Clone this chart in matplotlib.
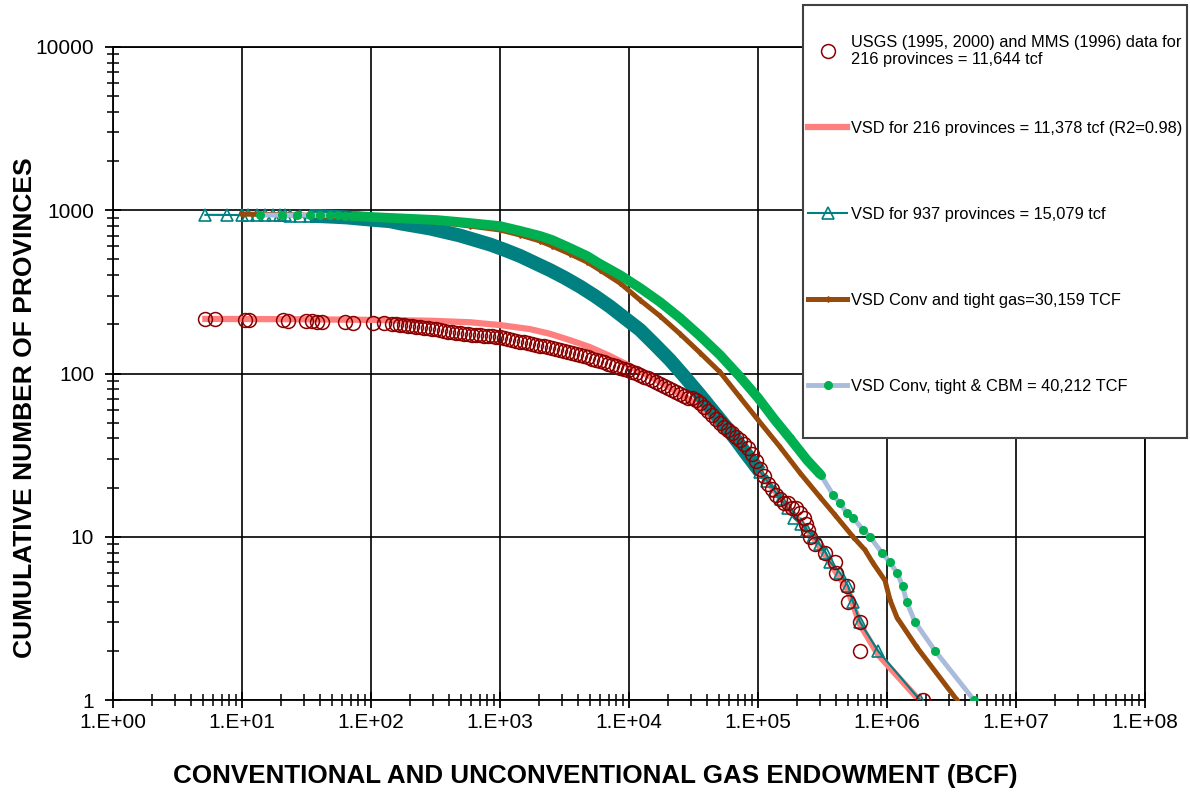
import numpy as np
import matplotlib.pyplot as plt
from matplotlib.patches import Rectangle
from matplotlib.ticker import LogLocator, NullFormatter, FixedLocator, FixedFormatter

plt.rcParams['font.family'] = ['Liberation Sans', 'DejaVu Sans']

# USGS / MMS province endowments (BCF) against cumulative rank
usgs_x = [5.2, 6.2, 10.5, 11.3, 20.8, 22.7, 31.3, 34.9, 38.1, 41.7, 62.8, 72.5, 104, 126,
          145.5, 156, 168, 180, 194, 208, 223, 240, 258, 277, 297, 319, 343, 368, 395, 425,
          456, 490, 526, 565, 607, 652, 700, 752, 807, 867, 931, 1000, 1074, 1153, 1239, 1330,
          1429, 1535, 1648, 1770, 1901, 2042, 2193, 2355, 2530, 2717, 2918, 3134, 3366, 3615,
          3883, 4171, 4479, 4811, 5167, 5549, 5960, 6401, 6875, 7384, 7930, 8517, 9147, 9823,
          10550, 11330, 12170, 13070, 14040, 15080, 16190, 17390, 18680, 20060, 21540, 23140,
          24850, 26690, 28660, 30780, 33060, 35510, 38140, 40960, 43990, 47240, 50740, 54490,
          58520, 62850, 67510, 72510, 77870, 83630, 89830, 96460, 103600, 111300, 119500,
          128400, 137900, 148100, 159100, 170800, 183500, 197000, 211700, 227300,
          235000, 245000, 252000, 277000, 331000, 395000, 403000, 490000, 495000,
          617000, 620000, 1900000]
usgs_y = [216, 215, 214, 213, 212, 211, 210, 209, 208, 207, 206, 205, 204, 203,
          201, 201, 198, 198, 195, 195, 193, 193, 190, 190, 187, 187, 185, 182, 180, 180,
          177, 177, 175, 175, 172, 172, 172, 170, 170, 170, 167, 167, 165, 163, 160, 158,
          156, 156, 154, 152, 150, 147, 147, 145, 143, 141, 139, 137, 135, 134,
          132, 130, 128, 126, 123, 121, 119, 118, 114, 113, 111, 108, 107, 105,
          102, 101, 98, 95, 94, 91, 89, 86, 84, 82, 79, 77,
          75, 73, 71, 71, 69, 66, 62, 59, 56, 53, 50, 47,
          45, 43, 41, 39, 37, 35, 32, 29, 26, 23.5, 21,
          19.5, 18, 17, 16, 16, 15, 15, 14, 13,
          12, 11, 10, 9, 8, 7, 6, 5, 4,
          3, 2, 1]

# VSD fit for the 216 provinces
vsd216_x = [5.2, 28, 101, 287, 585, 1000, 1710, 2440, 3490, 4990, 7120, 10200, 14600, 20800,
            29700, 42400, 60700, 86900, 124000, 177000, 267000, 361000, 499000, 618000,
            851000, 1770000]
vsd216_y = [216, 215, 213, 210.5, 206, 198, 187, 175, 160, 145, 128, 111, 96, 81.5,
            69, 55.5, 40, 29.5, 20.7, 14.6, 10, 6.9, 4.7, 2.9, 1.9, 1]

# VSD for 937 provinces
vsd937_x = np.array([5.2, 7.6, 10.0, 11.1, 13.0, 15.0, 17.3, 19.7, 21.6, 23.5, 28, 33.6, 40, 50,
                     65, 101, 140, 168, 287, 490, 837, 1094, 1429, 1868, 2441, 3190, 4171,
                     5450, 7123, 9311, 12170, 15910, 20790, 27170, 35510, 46420, 60670, 79300,
                     103600, 118000, 135000, 150000, 170000, 190000, 215000, 240000, 267000,
                     300000, 335000, 361000, 434000, 499000, 545000, 618000, 851000, 1800000])
vsd937_y = np.array([937, 936, 935, 934, 933, 932, 931, 930, 929, 928, 926, 923, 920, 913,
                     903, 875, 857, 831, 773, 700, 617, 571, 525, 475, 430, 385, 341,
                     298, 257, 218, 185, 150, 121, 95, 74, 57, 44, 33,
                     25, 22, 19, 17, 15, 13, 12, 11, 10,
                     9, 8, 7, 6, 5, 4, 3, 2, 1])

# VSD conventional + tight gas
tight_x = [10, 28, 101, 325, 585, 1000, 1430, 2042, 2530, 3490, 4720, 5960, 8517, 12170, 17390,
           24850, 35510, 50740, 72510, 100000, 148100, 211700, 302400, 395300, 545000, 675200,
           778800, 964600, 1055000, 1195000, 1709000, 3487000]
tight_y = [948, 935, 896, 847, 800, 757, 705, 648, 604, 540, 482, 430, 358, 282, 225,
           175, 134, 102, 71.5, 52, 35.5, 24.6, 17.5, 13.6, 10, 8.3,
           6.9, 5.4, 4.1, 3.2, 2.1, 1]

# VSD conventional + tight + CBM
cbm_x = np.array([13.8, 20.4, 26.7, 33.6, 40.2, 48.1, 55.5, 62.9, 71.3, 101, 325, 585, 1000,
                  1430, 2042, 2530, 3490, 4720, 5960, 8510, 12200, 17400, 24800, 35500, 50700,
                  72500, 100000, 135000, 177000, 240000, 307000,
                  383000, 432000, 487000, 548000, 655000, 738000, 910000, 1050000, 1200000,
                  1320000, 1420000, 1650000, 2360000, 4720000])
cbm_y = np.array([935, 934, 933, 932, 931, 930, 929, 928, 926, 909, 871, 835, 800,
                  748, 696, 658, 587, 525, 469, 401, 334, 274, 219, 170, 130,
                  95.5, 71, 52, 40, 29.5, 23.9,
                  18, 16, 14, 13, 11, 10, 8, 7, 6,
                  5, 4, 3, 2, 1])

x_ticks = [1, 1e1, 1e2, 1e3, 1e4, 1e5, 1e6, 1e7, 1e8]
x_ticklabels = ['1.E+00', '1.E+01', '1.E+02', '1.E+03', '1.E+04', '1.E+05', '1.E+06', '1.E+07', '1.E+08']
y_ticks = [1, 10, 100, 1000, 10000]
y_ticklabels = ['1', '10', '100', '1000', '10000']

fig = plt.figure(figsize=(11.9, 8), dpi=100)
ax = fig.add_axes([113 / 1190, 100 / 800, 1032 / 1190, 653 / 800])

teal = '#008080'
green = '#00B050'

l_fit, = ax.plot(vsd216_x, vsd216_y, color='#FF7F7F', lw=4.5, zorder=2,
                 label='VSD for 216 provinces = 11,378 tcf (R2=0.98)')
# the 937 triangles pile up into a solid band through the middle
band = (vsd937_x > 30) & (vsd937_x < 1.1e5)
ax.plot(vsd937_x[band], vsd937_y[band], color=teal, lw=10, zorder=3, solid_capstyle='butt')
sparse = [i for i in range(len(vsd937_x)) if not (40 < vsd937_x[i] < 1.0e5)]
l_937, = ax.plot(vsd937_x, vsd937_y, color=teal, lw=1.5, marker='^', ms=8.5, mfc='none',
                 mec=teal, mew=1.2, markevery=sparse, zorder=3,
                 label='VSD for 937 provinces = 15,079 tcf')
l_usgs, = ax.plot(usgs_x, usgs_y, ls='none', marker='o', ms=10, mfc='none', mec='#8B0000',
                  mew=1.1, zorder=4,
                  label='USGS (1995, 2000) and MMS (1996) data for\n216 provinces = 11,644 tcf')
l_tight, = ax.plot(tight_x, tight_y, color='#974A09', lw=3.6, marker='d', ms=3, zorder=5,
                   label='VSD Conv and tight gas=30,159 TCF')
l_cbm, = ax.plot(cbm_x, cbm_y, color='#A9BCDB', lw=3.5, marker='o', ms=5.5, mfc=green,
                 mec=green, zorder=6, label='VSD Conv, tight & CBM = 40,212 TCF')
band = (cbm_x > 65) & (cbm_x < 3.2e5)
ax.plot(cbm_x[band], cbm_y[band], color=green, lw=7, zorder=6, solid_capstyle='butt')

ax.set_xscale('log')
ax.set_yscale('log')
ax.set_xlim(1, 1e8)
ax.set_ylim(1, 1e4)
ax.xaxis.set_major_locator(FixedLocator(x_ticks))
ax.xaxis.set_major_formatter(FixedFormatter(x_ticklabels))
ax.yaxis.set_major_locator(FixedLocator(y_ticks))
ax.yaxis.set_major_formatter(FixedFormatter(y_ticklabels))
ax.xaxis.set_minor_locator(LogLocator(base=10, subs=range(2, 10), numticks=20))
ax.yaxis.set_minor_locator(LogLocator(base=10, subs=range(2, 10), numticks=20))
ax.xaxis.set_minor_formatter(NullFormatter())
ax.yaxis.set_minor_formatter(NullFormatter())
ax.tick_params(which='major', direction='inout', length=11, width=1.3, labelsize=15, pad=4)
ax.tick_params(which='minor', direction='inout', length=8, width=1.1)
ax.tick_params(axis='y', which='major', pad=8)
ax.grid(True, which='major', color='black', lw=1.2)
for s in ax.spines.values():
    s.set_color('black')
    s.set_linewidth(1.3)

fig.text(0.5, 0.03, 'CONVENTIONAL AND UNCONVENTIONAL GAS ENDOWMENT (BCF)',
         ha='center', va='center', fontsize=18.7, fontweight='bold')
fig.text(0.021, 0.491, 'CUMULATIVE NUMBER OF PROVINCES', rotation=90,
         ha='center', va='center', fontsize=19, fontweight='bold')

fig.add_artist(Rectangle((803 / 1190, 362 / 800), 384 / 1190, 433 / 800,
                         transform=fig.transFigure, facecolor='white',
                         edgecolor='#404040', lw=1.5, zorder=3))
leg_kw = dict(loc='upper left', bbox_transform=fig.transFigure, frameon=False,
              fontsize=11.8, handlelength=2.4, handletextpad=0.2, borderpad=0,
              borderaxespad=0)
leg1 = fig.legend(handles=[l_usgs], bbox_to_anchor=(808 / 1190, 1 - 35 / 800), **leg_kw)
leg2 = fig.legend(handles=[l_fit, l_937, l_tight, l_cbm],
                  bbox_to_anchor=(808 / 1190, 1 - 121 / 800), labelspacing=4.33, **leg_kw)
leg1.set_zorder(4)
leg2.set_zorder(4)

fig.savefig('out.png', dpi=100)
